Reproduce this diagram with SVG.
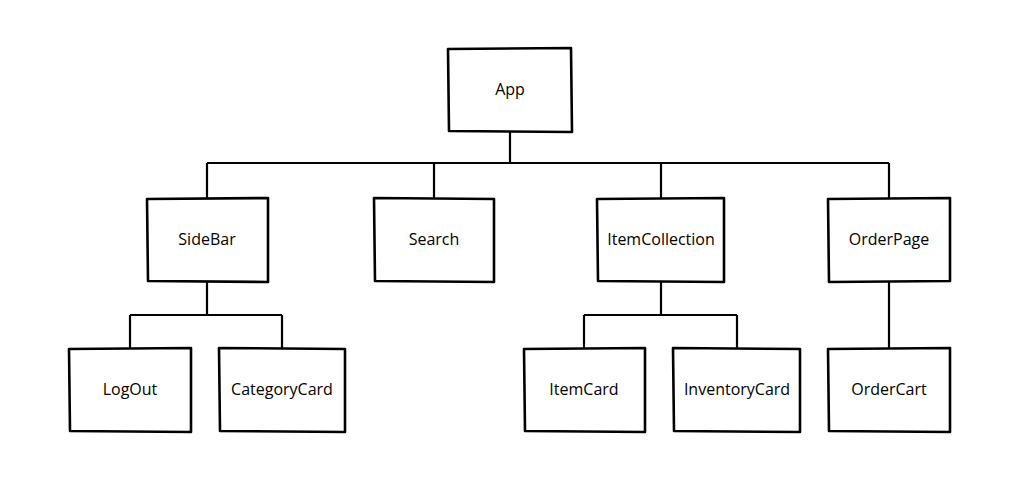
<svg xmlns="http://www.w3.org/2000/svg" width="1036" height="504" viewBox="0 0 1036 504">
<style>
.box{fill:#fff;stroke:#000;stroke-width:2.6;stroke-linejoin:round}
.lbl{font-family:"Open Sans","Lato",sans-serif;font-size:16px;fill:#000;text-anchor:middle;dominant-baseline:central}
.conn{fill:none;stroke:#000;stroke-width:2.2}
</style>
<rect width="1036" height="504" fill="#fff"/>
<g id="connectors">
<path class="conn" d="M510 132V163M207 163H889M207 163V198M434 163V198M661 163V198M889 163V198"/>
<path class="conn" d="M207 282V315M130 315H282M130 315V348M282 315V348"/>
<path class="conn" d="M661 282V315M584 315H737M584 315V348M737 315V348"/>
<path class="conn" d="M889 282V348"/>
</g>
<g id="App"><path class="box" d="M448 49L571 48L572 132L449 131Z"/><text class="lbl" x="510" y="89">App</text></g>
<g id="SideBar"><path class="box" d="M147 199L268 198L268 282L148 281Z"/><text class="lbl" x="207" y="239">SideBar</text></g>
<g id="Search"><path class="box" d="M374 198L494 199L494 282L375 281Z"/><text class="lbl" x="434" y="239">Search</text></g>
<g id="ItemCollection"><path class="box" d="M597 199L724 198L724 282L598 281Z"/><text class="lbl" x="661" y="239">ItemCollection</text></g>
<g id="OrderPage"><path class="box" d="M828 199L950 198L950 281L829 282Z"/><text class="lbl" x="889" y="239">OrderPage</text></g>
<g id="LogOut"><path class="box" d="M69 349L191 348L191 432L70 431Z"/><text class="lbl" x="130" y="389">LogOut</text></g>
<g id="CategoryCard"><path class="box" d="M219 348L345 349L345 432L220 431Z"/><text class="lbl" x="282" y="389">CategoryCard</text></g>
<g id="ItemCard"><path class="box" d="M524 349L645 348L645 432L525 431Z"/><text class="lbl" x="584" y="389">ItemCard</text></g>
<g id="InventoryCard"><path class="box" d="M673 348L800 349L800 432L674 431Z"/><text class="lbl" x="737" y="389">InventoryCard</text></g>
<g id="OrderCart"><path class="box" d="M828 349L950 348L950 432L829 431Z"/><text class="lbl" x="889" y="389">OrderCart</text></g>
</svg>
